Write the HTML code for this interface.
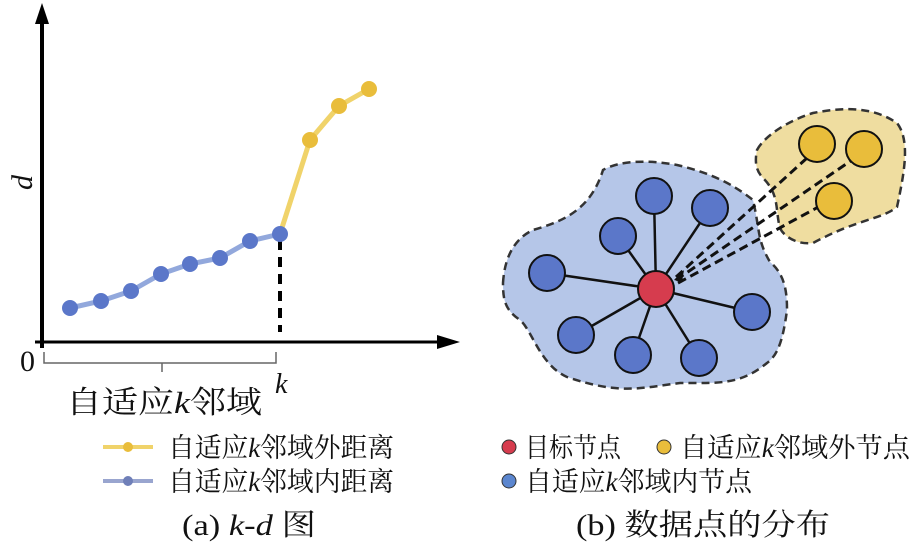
<!DOCTYPE html>
<html><head><meta charset="utf-8"><style>
html,body{margin:0;padding:0;background:#fff}
svg{display:block}
text{font-family:"Liberation Serif","Noto Serif CJK SC",serif;fill:#111}
</style></head><body>
<svg width="917" height="546" viewBox="0 0 917 546" xmlns="http://www.w3.org/2000/svg">
<line x1="42" y1="12" x2="42" y2="348" stroke="#000" stroke-width="4"/>
<polygon points="42,3 35,24 49,24" fill="#000"/>
<line x1="35" y1="342" x2="448" y2="342" stroke="#000" stroke-width="3"/>
<polygon points="460,342 437,335 437,349" fill="#000"/>
<line x1="280" y1="240" x2="280" y2="332" stroke="#000" stroke-width="4" stroke-dasharray="10,7"/>
<path d="M44,352 V363 H276 V352 M162,363 V372" stroke="#666" stroke-width="1.5" fill="none"/>
<text x="20" y="371" font-size="30" textLength="15" lengthAdjust="spacingAndGlyphs">0</text>
<text x="66" y="413" font-size="31" textLength="196" lengthAdjust="spacingAndGlyphs">自适应<tspan font-style="italic">k</tspan>邻域</text>
<text x="275" y="393" font-size="28" font-style="italic">k</text>
<text transform="translate(32,190) rotate(-90)" font-size="30" font-style="italic">d</text>
<polyline points="70,308 101,301 131,291 161,274 190,264 220,258 250,241 280,234" fill="none" stroke="#92a8dc" stroke-width="5"/>
<polyline points="280,234 310,140 339,106 369,89" fill="none" stroke="#f0d36a" stroke-width="5"/>
<g fill="#5b77c9">
<circle cx="70" cy="308" r="8"/><circle cx="101" cy="301" r="8"/><circle cx="131" cy="291" r="8"/><circle cx="161" cy="274" r="8"/><circle cx="190" cy="264" r="8"/><circle cx="220" cy="258" r="8"/><circle cx="250" cy="241" r="8"/><circle cx="280" cy="234" r="8"/>
</g>
<g fill="#e9bd3b"><circle cx="310" cy="140" r="8"/><circle cx="339" cy="106" r="8"/><circle cx="369" cy="89" r="8"/></g>

<path d="M503,283 C505,250 520,236 533,230 C560,222 590,212 603,170 C620,160 650,160 677,165 C720,175 740,190 753,200 C760,230 757,240 770,262 C786,275 787,295 787,310 C783,340 778,355 767,363 C740,385 720,383 680,383 C640,388 620,395 567,377 C540,365 532,330 520,320 C505,310 503,300 503,283 Z" fill="#b5c6e8" stroke="#333" stroke-width="2.5" stroke-dasharray="8,5"/>
<path d="M757,150 C765,135 790,120 813,113 C840,108 870,105 897,123 C910,140 905,170 897,207 C880,220 860,218 813,243 C795,245 783,235 780,228 C775,210 780,195 763,178 C755,170 755,160 757,150 Z" fill="#efdda0" stroke="#333" stroke-width="2.5" stroke-dasharray="8,5"/>
<g stroke="#111" stroke-width="3" stroke-dasharray="9,5">
<line x1="676" y1="277" x2="807" y2="158"/>
<line x1="676" y1="280" x2="852" y2="160"/>
<line x1="678" y1="283" x2="822" y2="205"/>
</g>
<polygon points="674,280 684,270 682,282" fill="#111"/>
<g stroke="#111" stroke-width="2.5">
<line x1="656" y1="289" x2="654" y2="196"/><line x1="656" y1="289" x2="710" y2="208"/><line x1="656" y1="289" x2="618" y2="236"/><line x1="656" y1="289" x2="547" y2="273"/><line x1="656" y1="289" x2="752" y2="312"/><line x1="656" y1="289" x2="576" y2="335"/><line x1="656" y1="289" x2="633" y2="355"/><line x1="656" y1="289" x2="699" y2="358"/>
</g>
<g fill="#5b77c9" stroke="#111" stroke-width="2">
<circle cx="654" cy="196" r="18"/><circle cx="710" cy="208" r="18"/><circle cx="618" cy="236" r="18"/><circle cx="547" cy="273" r="18"/><circle cx="752" cy="312" r="18"/><circle cx="576" cy="335" r="18"/><circle cx="633" cy="355" r="18"/><circle cx="699" cy="358" r="18"/>
</g>
<circle cx="656" cy="289" r="18" fill="#d63c4e" stroke="#111" stroke-width="2"/>
<g fill="#e9bd3b" stroke="#111" stroke-width="2">
<circle cx="817" cy="144" r="18"/><circle cx="864" cy="149" r="18"/><circle cx="834" cy="201" r="18"/>
</g>

<line x1="103" y1="447" x2="153" y2="447" stroke="#f0d36a" stroke-width="4"/><circle cx="128" cy="447" r="5" fill="#e9bd3b"/>
<line x1="103" y1="481" x2="153" y2="481" stroke="#99a5cf" stroke-width="4"/><circle cx="128" cy="481" r="5" fill="#6f7fb8"/>
<text x="168" y="457" font-size="27" textLength="226" lengthAdjust="spacingAndGlyphs">自适应<tspan font-style="italic">k</tspan>邻域外距离</text>
<text x="168" y="491" font-size="27" textLength="226" lengthAdjust="spacingAndGlyphs">自适应<tspan font-style="italic">k</tspan>邻域内距离</text>
<circle cx="509" cy="447" r="7" fill="#d63c4e" stroke="#333" stroke-width="1"/>
<text x="525" y="457" font-size="27" textLength="96" lengthAdjust="spacingAndGlyphs">目标节点</text>
<circle cx="664" cy="447" r="7" fill="#e9bd3b" stroke="#333" stroke-width="1"/>
<text x="680" y="457" font-size="27" textLength="230" lengthAdjust="spacingAndGlyphs">自适应<tspan font-style="italic">k</tspan>邻域外节点</text>
<circle cx="509" cy="481" r="7" fill="#5b86cf" stroke="#333" stroke-width="1"/>
<text x="525" y="491" font-size="27" textLength="227" lengthAdjust="spacingAndGlyphs">自适应<tspan font-style="italic">k</tspan>邻域内节点</text>
<text x="182" y="535" font-size="30" textLength="134" lengthAdjust="spacingAndGlyphs">(a) <tspan font-style="italic">k</tspan>-<tspan font-style="italic">d</tspan> 图</text>
<text x="576" y="535" font-size="30" textLength="254" lengthAdjust="spacingAndGlyphs">(b) 数据点的分布</text>
</svg>
</body></html>
